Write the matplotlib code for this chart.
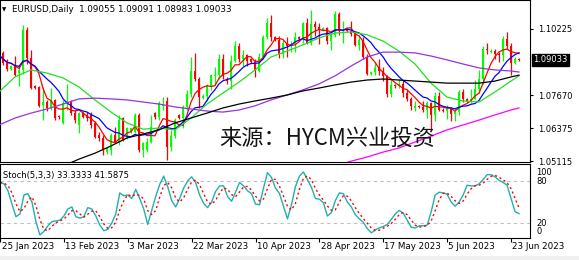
import numpy as np
import pandas as pd
import matplotlib
matplotlib.use("Agg")
import matplotlib.pyplot as plt
import matplotlib.transforms as mtransforms
from matplotlib.patches import Rectangle

# daily bars (broker feed with Sunday bars), 25 Jan 2023 .. 26 Jun 2023
opens = [1.0856, 1.0930, 1.0891, 1.0868, 1.0879, 1.0852, 1.0862, 1.1019, 1.0910, 1.0800,
         1.0798, 1.0730, 1.0740, 1.0717, 1.0748, 1.0686, 1.0659, 1.0736, 1.0740, 1.0697,
         1.0651, 1.0697, 1.0690, 1.0690, 1.0659, 1.0612, 1.0601, 1.0546, 1.0554, 1.0612,
         1.0581, 1.0678, 1.0601, 1.0624, 1.0624, 1.0690, 1.0554, 1.0554, 1.0585, 1.0697,
         1.0682, 1.0725, 1.0745, 1.0565, 1.0610, 1.0690, 1.0680, 1.0720, 1.0770, 1.0860,
         1.0830, 1.0755, 1.0765, 1.0800, 1.0840, 1.0846, 1.0905, 1.0830, 1.0820, 1.0900,
         1.0955, 1.0905, 1.0920, 1.0905, 1.0895, 1.0860, 1.0915, 1.0990, 1.1045, 1.0990,
         1.0980, 1.0925, 1.0970, 1.0955, 1.0965, 1.0990, 1.0985, 1.1045, 1.0970, 1.1040,
         1.1030, 1.1020, 1.1025, 1.0975, 1.1000, 1.1080, 1.1015, 1.1020, 1.1015, 1.1005,
         1.0960, 1.0980, 1.0915, 1.0850, 1.0855, 1.0870, 1.0860, 1.0840, 1.0770, 1.0805,
         1.0800, 1.0810, 1.0775, 1.0750, 1.0718, 1.0726, 1.0722, 1.0708, 1.0735, 1.0690,
         1.0762, 1.0710, 1.0705, 1.0712, 1.0695, 1.0700, 1.0780, 1.0750, 1.0745, 1.0752,
         1.0792, 1.0830, 1.0945, 1.0932, 1.0938, 1.0925, 1.0920, 1.0985, 1.0955, 1.0890,
         1.09055]
highs = [1.0934, 1.0937, 1.0905, 1.0885, 1.0918, 1.0883, 1.1038, 1.1032, 1.0941, 1.0806,
         1.0802, 1.0798, 1.0748, 1.0794, 1.0752, 1.0690, 1.0748, 1.0810, 1.0748, 1.0710,
         1.0700, 1.0700, 1.0700, 1.0700, 1.0665, 1.0625, 1.0612, 1.0566, 1.0620, 1.0645,
         1.0690, 1.0682, 1.0645, 1.0640, 1.0697, 1.0697, 1.0585, 1.0600, 1.0690, 1.0700,
         1.0745, 1.0760, 1.0760, 1.0630, 1.0680, 1.0695, 1.0730, 1.0785, 1.0915, 1.0930,
         1.0835, 1.0770, 1.0810, 1.0850, 1.0875, 1.0925, 1.0925, 1.0835, 1.0920, 1.0975,
         1.0970, 1.0940, 1.0925, 1.0910, 1.0905, 1.0930, 1.1000, 1.1065, 1.1075, 1.0995,
         1.0995, 1.0980, 1.0990, 1.0975, 1.1010, 1.0995, 1.1050, 1.1065, 1.1095, 1.1055,
         1.1045, 1.1030, 1.1030, 1.1020, 1.1092, 1.1090, 1.1055, 1.1025, 1.1055, 1.1015,
         1.1000, 1.0990, 1.0925, 1.0860, 1.0895, 1.0905, 1.0875, 1.0845, 1.0830, 1.0810,
         1.0830, 1.0825, 1.0785, 1.0760, 1.0745, 1.0730, 1.0745, 1.0745, 1.0740, 1.0780,
         1.0780, 1.0715, 1.0730, 1.0720, 1.0715, 1.0785, 1.0790, 1.0755, 1.0790, 1.0825,
         1.0865, 1.0955, 1.0970, 1.0945, 1.0945, 1.0935, 1.0995, 1.1012, 1.0970, 1.0915,
         1.09091]
lows = [1.0848, 1.0883, 1.0860, 1.0864, 1.0840, 1.0800, 1.0848, 1.0887, 1.0790, 1.0790,
        1.0721, 1.0670, 1.0705, 1.0709, 1.0670, 1.0676, 1.0655, 1.0709, 1.0690, 1.0660,
        1.0620, 1.0678, 1.0665, 1.0640, 1.0600, 1.0590, 1.0535, 1.0540, 1.0535, 1.0580,
        1.0575, 1.0590, 1.0595, 1.0620, 1.0620, 1.0546, 1.0527, 1.0545, 1.0580, 1.0675,
        1.0670, 1.0710, 1.0516, 1.0550, 1.0600, 1.0675, 1.0640, 1.0710, 1.0760, 1.0820,
        1.0715, 1.0750, 1.0745, 1.0785, 1.0810, 1.0830, 1.0830, 1.0810, 1.0790, 1.0895,
        1.0895, 1.0880, 1.0880, 1.0890, 1.0835, 1.0855, 1.0905, 1.0985, 1.0975, 1.0975,
        1.0910, 1.0910, 1.0915, 1.0935, 1.0935, 1.0980, 1.0970, 1.0965, 1.0960, 1.0995,
        1.0965, 1.1015, 1.0965, 1.0940, 1.0990, 1.1000, 1.0970, 1.1010, 1.0995, 1.0955,
        1.0940, 1.0905, 1.0845, 1.0845, 1.0845, 1.0845, 1.0820, 1.0760, 1.0760, 1.0795,
        1.0795, 1.0760, 1.0745, 1.0710, 1.0705, 1.0715, 1.0700, 1.0680, 1.0635, 1.0665,
        1.0705, 1.0700, 1.0675, 1.0665, 1.0665, 1.0690, 1.0740, 1.0740, 1.0735, 1.0750,
        1.0775, 1.0810, 1.0925, 1.0930, 1.0905, 1.0895, 1.0900, 1.0945, 1.0845, 1.0888,
        1.08983]
closes = [1.0922, 1.0891, 1.0868, 1.0879, 1.0844, 1.0864, 1.1019, 1.0910, 1.0794, 1.0796,
          1.0725, 1.0740, 1.0717, 1.0748, 1.0678, 1.0682, 1.0736, 1.0744, 1.0697, 1.0670,
          1.0697, 1.0682, 1.0678, 1.0651, 1.0604, 1.0601, 1.0554, 1.0562, 1.0612, 1.0585,
          1.0670, 1.0593, 1.0639, 1.0639, 1.0690, 1.0554, 1.0581, 1.0585, 1.0643, 1.0682,
          1.0736, 1.0732, 1.0565, 1.0610, 1.0670, 1.0680, 1.0720, 1.0770, 1.0860, 1.0830,
          1.0760, 1.0765, 1.0800, 1.0845, 1.0846, 1.0905, 1.0840, 1.0820, 1.0900, 1.0955,
          1.0905, 1.0920, 1.0900, 1.0895, 1.0860, 1.0915, 1.0990, 1.1045, 1.0990, 1.0980,
          1.0925, 1.0970, 1.0955, 1.0965, 1.0990, 1.0985, 1.1045, 1.0970, 1.1040, 1.1030,
          1.1020, 1.1025, 1.0975, 1.1000, 1.1080, 1.1015, 1.1020, 1.1015, 1.1005, 1.0960,
          1.0980, 1.0915, 1.0850, 1.0855, 1.0870, 1.0860, 1.0840, 1.0770, 1.0805, 1.0800,
          1.0810, 1.0775, 1.0750, 1.0725, 1.0726, 1.0722, 1.0708, 1.0735, 1.0690, 1.0762,
          1.0710, 1.0705, 1.0712, 1.0695, 1.0700, 1.0780, 1.0750, 1.0745, 1.0752, 1.0792,
          1.0830, 1.0945, 1.0940, 1.0938, 1.0925, 1.0920, 1.0985, 1.0955, 1.0890, 1.0905,
          1.09033]

# slower moving averages, every 4th bar
ma_idx = list(range(0, 129, 4)) + [130]
ma_green = [1.0779, 1.0837, 1.0864, 1.0852, 1.0833, 1.0798, 1.0748, 1.0701, 1.0659, 1.0635,
            1.0639, 1.0632, 1.0678, 1.0732, 1.0775, 1.0817, 1.0864, 1.0914, 1.0937, 1.0961,
            1.0988, 1.1007, 1.1011, 1.1000, 1.0976, 1.0937, 1.0887, 1.0813, 1.0759, 1.0744,
            1.0740, 1.0779, 1.0821, 1.0841]
ma_purple = [1.0651, 1.0678, 1.0697, 1.0713, 1.0732, 1.0752, 1.0755, 1.0752, 1.0748, 1.0740,
             1.0732, 1.0721, 1.0713, 1.0705, 1.0701, 1.0709, 1.0725, 1.0748, 1.0767, 1.0787,
             1.0810, 1.0841, 1.0879, 1.0914, 1.0933, 1.0933, 1.0930, 1.0918, 1.0903, 1.0887,
             1.0872, 1.0864, 1.0860, 1.0856]
black_idx = list(range(16, 129, 4)) + [130]
ma_black = [1.0492, 1.0519, 1.0542, 1.0570, 1.0601, 1.0616, 1.0632, 1.0659, 1.0678, 1.0697,
            1.0717, 1.0732, 1.0744, 1.0755, 1.0767, 1.0783, 1.0794, 1.0806, 1.0817, 1.0825,
            1.0829, 1.0825, 1.0821, 1.0817, 1.0813, 1.0813, 1.0813, 1.0821, 1.0837, 1.0844]
magenta_idx = list(range(84, 129, 4)) + [130]
ma_magenta = [1.0492, 1.0511, 1.0527, 1.0546, 1.0562, 1.0585, 1.0608, 1.0632, 1.0651, 1.0670,
              1.0690, 1.0709, 1.0717]

# Stoch(5,3,3) main line for every bar
stoch_k = [78, 76, 66, 47, 29, 33, 60, 62, 50, 22,
           3, 8, 16, 22, 23, 24, 30, 40, 43, 29,
           27, 29, 42, 40, 30, 17, 9, 11, 20, 33,
           63, 59, 60, 55, 68, 55, 40, 18, 38, 58,
           75, 87, 72, 52, 43, 55, 70, 80, 86, 78,
           60, 48, 42, 50, 65, 73, 73, 58, 51, 64,
           78, 73, 66, 62, 47, 46, 70, 92, 85, 70,
           62, 44, 26, 46, 72, 87, 93, 82, 71, 55,
           54, 49, 30, 35, 52, 63, 62, 50, 43, 32,
           26, 21, 12, 6, 10, 13, 15, 18, 25, 33,
           38, 34, 24, 14, 13, 16, 16, 17, 36, 60,
           64, 63, 61, 50, 44, 50, 60, 74, 73, 73,
           76, 82, 89, 89, 86, 81, 78, 74, 55, 36.4,
           33.3333]

tick_dates = ["2023-01-25", "2023-02-13", "2023-03-03", "2023-03-22", "2023-04-10",
              "2023-04-28", "2023-05-17", "2023-06-05", "2023-06-23"]
price_ticks = [1.10225, 1.07670, 1.06375, 1.05115]
last_price = 1.09033

days = pd.date_range("2023-01-25", "2023-06-26")
days = days[days.dayofweek != 5]
x = np.arange(len(days))

o = np.array(opens)
h = np.array(highs)
l = np.array(lows)
c = np.array(closes)

fig = plt.figure(figsize=(5.79, 2.60), dpi=100)
ax = fig.add_axes([0, 1 - 162 / 260, 530 / 579, 162 / 260])
ax2 = fig.add_axes([0, 1 - 238 / 260, 530 / 579, 74 / 260])

# candles
up = c > o
cols = np.where(up, "#00ff00", "#ff0000")
ax.vlines(x, l, h, colors=cols, lw=0.9, zorder=2)
body = np.maximum(np.abs(c - o), 0.00009)
ax.bar(x, body, bottom=np.minimum(o, c), width=0.72, color=cols, linewidth=0, zorder=2)

# moving averages
cs = pd.Series(c)
ax.plot(x, cs.rolling(5, min_periods=1).mean(), color="#ff0000", lw=0.9, zorder=3)
ax.plot(x, cs.rolling(10, min_periods=1).mean(), color="#0000ff", lw=0.9, zorder=3)
ax.plot(ma_idx, ma_green, color="#22e022", lw=0.9, zorder=3)
ax.plot(ma_idx, ma_purple, color="#9b30e0", lw=0.9, zorder=3)
ax.plot(black_idx, ma_black, color="black", lw=0.9, zorder=3)
ax.plot(magenta_idx, ma_magenta, color="#ff00ff", lw=0.9, zorder=3)

ax.set_xlim(0.25, 132.75)
ax.set_ylim(1.05078, 1.11347)
ax.yaxis.tick_right()
ax.set_yticks(price_ticks)
ax.set_yticklabels([f"{v:.5f}" for v in price_ticks])
ax.tick_params(axis="y", direction="out", length=2.5, width=0.8, pad=3, labelsize=6.0)
ax.set_xticks([])

ytr = mtransforms.blended_transform_factory(ax.transAxes, ax.transData)
ax.text(1.006, last_price, "1.09033", transform=ytr, color="white", fontsize=6.0,
        va="center", ha="left",
        bbox=dict(boxstyle="square,pad=0.2", facecolor="black", edgecolor="black"))

ax.text(219 / 530, 24 / 162, "来源：HYCM兴业投资", transform=ax.transAxes,
        fontsize=16, color="#151515", va="center", ha="left",
        family=["Noto Sans CJK SC", "DejaVu Sans"], zorder=5)

# stochastic panel: signal line is the 3-bar average of the main line
k = pd.Series(stoch_k)
d = k.rolling(3, min_periods=1).mean()

ax2.axhline(80, color="#c0c0c0", lw=0.8, ls=(0, (3, 3)))
ax2.axhline(20, color="#c0c0c0", lw=0.8, ls=(0, (3, 3)))
ax2.plot(x, k, color="#20b2aa", lw=1.0)
ax2.plot(x, d, color="#ff0000", lw=1.0, ls=(0, (1.5, 2)))
ax2.set_xlim(0.25, 132.75)
ax2.set_ylim(-1.4, 104.3)
ax2.set_yticks([])

tick_pos = [days.get_loc(pd.Timestamp(t)) for t in tick_dates]
ax2.set_xticks(tick_pos)
ax2.set_xticklabels([])
ax2.tick_params(axis="x", direction="out", length=3, width=0.8)
xtr = mtransforms.blended_transform_factory(ax2.transData, ax2.transAxes)
for p, t in zip(tick_pos, tick_dates):
    lab = pd.Timestamp(t).strftime("%d %b %Y").lstrip("0")
    ax2.text(max(p, 0.25) + 0.3, -0.12, lab, transform=xtr, fontsize=6.3,
             ha="left", va="center", clip_on=False)

s_tr = mtransforms.blended_transform_factory(ax2.transAxes, ax2.transData)
for val, lab in [(92, "100"), (80, "80"), (20, "20"), (8, "0")]:
    ax2.text(1.012, val, lab, transform=s_tr, fontsize=6.0, ha="left", va="center")

ax2.text(3 / 530, 88, "Stoch(5,3,3) 33.3333 41.5875", transform=s_tr, fontsize=6,
         ha="left", va="center")

for a in (ax, ax2):
    for sp in a.spines.values():
        sp.set_linewidth(0.8)
        sp.set_color("black")

fig.text(12 / 579, 1 - 9 / 260, "EURUSD,Daily  1.09055 1.09091 1.08983 1.09033",
         fontsize=6.3, ha="left", va="center")
fig.text(2 / 579, 1 - 9.5 / 260, "▼", fontsize=4, ha="left", va="center")
fig.patches.append(Rectangle((0, 0), 1, 4 / 260, transform=fig.transFigure,
                             facecolor="#f0f0f0", edgecolor="none"))

fig.savefig("out.png", dpi=100)
